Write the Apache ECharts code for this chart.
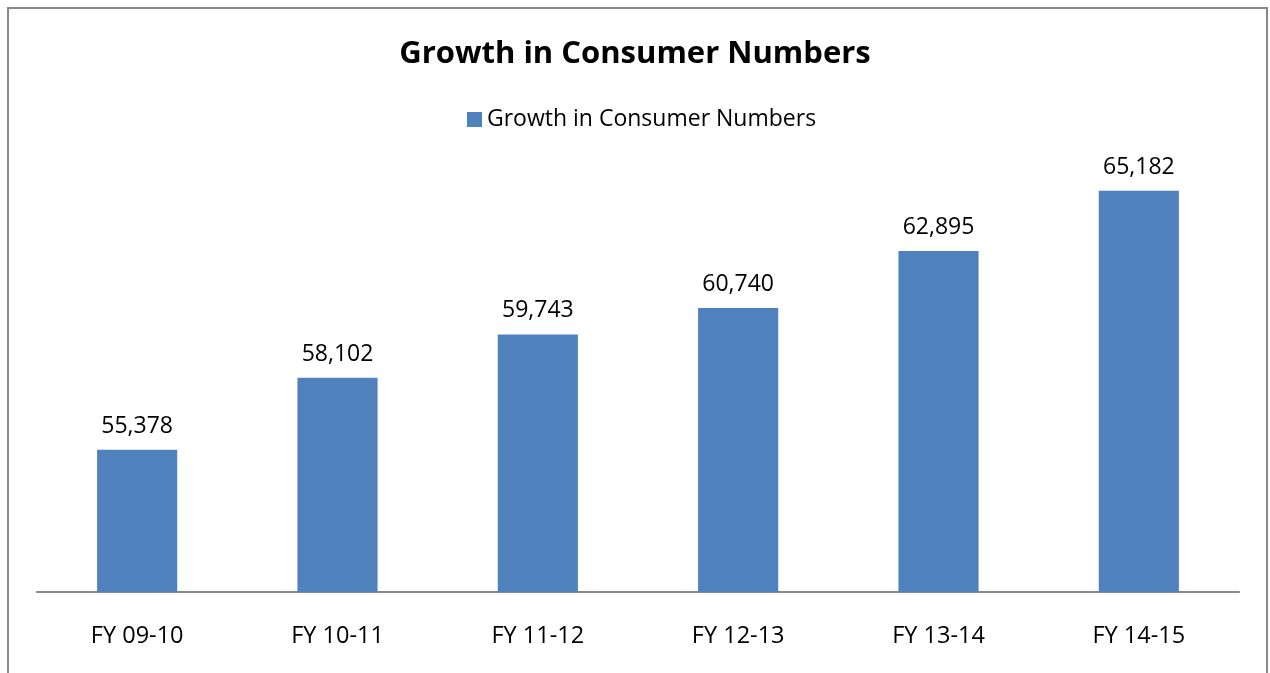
<!DOCTYPE html>
<html>
<head>
<meta charset="utf-8">
<script src="https://cdn.jsdelivr.net/npm/echarts@6/dist/echarts.min.js"></script>
<style>
  html, body { margin: 0; padding: 0; background: #fff; }
  #chart { width: 1270px; height: 673px; }
</style>
</head>
<body>
<div id="chart"></div>
<script>
const categories = ["FY 09-10", "FY 10-11", "FY 11-12", "FY 12-13", "FY 13-14", "FY 14-15"];
const consumers = [55378, 58102, 59743, 60740, 62895, 65182];
const seriesName = "Growth in Consumer Numbers";

const chart = echarts.init(document.getElementById("chart"));
const font = "'Open Sans', sans-serif";

chart.setOption({
  animation: false,
  // outer frame, bottom edge runs off the picture
  graphic: [{
    type: "rect",
    shape: { x: 8, y: 8, width: 1259, height: 700 },
    style: { fill: "none", stroke: "#888", lineWidth: 2 },
    silent: true
  }],
  title: {
    text: "Growth in Consumer Numbers",
    left: "center",
    top: 34,
    textStyle: { fontFamily: font, fontWeight: "bold", fontSize: 31, color: "#000" }
  },
  legend: {
    data: [seriesName],
    top: 103,
    left: 462,
    icon: "rect",
    itemWidth: 15,
    itemHeight: 15,
    itemGap: 8,
    textStyle: { fontFamily: font, fontSize: 23, color: "#000" }
  },
  grid: { left: 37, right: 31, top: 169, bottom: 81 },
  xAxis: {
    type: "category",
    data: categories,
    axisTick: { show: false },
    axisLine: { lineStyle: { color: "#888", width: 2 } },
    axisLabel: { fontFamily: font, fontSize: 23.5, color: "#000", margin: 32 }
  },
  yAxis: {
    type: "value",
    min: 50000,
    max: 66000,
    show: false,
    splitLine: { show: false }
  },
  series: [{
    name: seriesName,
    type: "bar",
    data: consumers,
    barWidth: "40%",
    itemStyle: { color: "#4F81BD" },
    label: {
      show: true,
      position: "top",
      distance: 12,
      fontFamily: font,
      fontSize: 23,
      color: "#000",
      formatter: p => p.value.toLocaleString("en-US")
    }
  }]
});
</script>
</body>
</html>
